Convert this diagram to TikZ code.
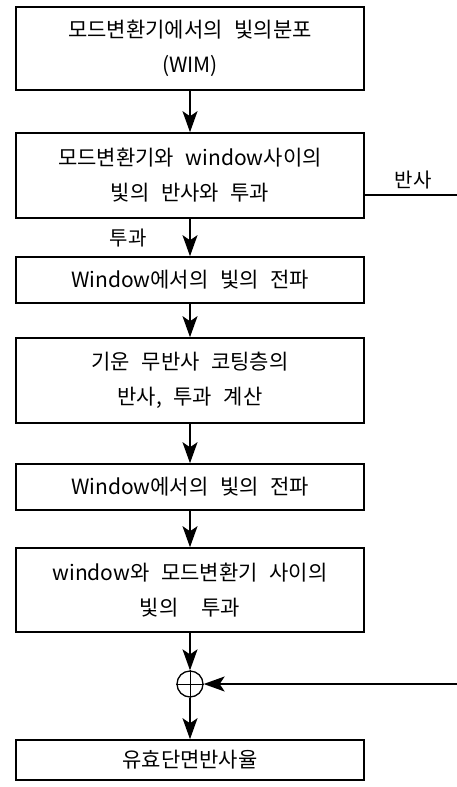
\documentclass[tikz,border=0pt]{standalone}
\usepackage{fontspec}
\setmainfont{Noto Sans CJK KR}
\usetikzlibrary{arrows.meta}
\newcommand{\gap}{\hspace{0.55em}}
\begin{document}
\begin{tikzpicture}[x=1pt,y=-1pt,
  box/.style={draw,line width=1.6pt,minimum width=348pt,inner sep=0pt,align=center,
    font=\fontsize{21}{35}\selectfont},
  lbl/.style={inner sep=0pt,font=\fontsize{20}{20}\selectfont},
  arr/.style={line width=1.4pt,-{Stealth[length=21pt,width=15pt,inset=5pt]}},
  ln/.style={line width=1.3pt}]
\useasboundingbox (0,0) rectangle (457,787);
\node[box,minimum height=83pt] (b1) at (190,48.5) {모드변환기에서의\gap 빛의분포\\(WIM)};
\node[box,minimum height=85pt] (b2) at (190,175.5) {모드변환기와\gap window사이의\\빛의\gap 반사와\gap 투과};
\node[box,minimum height=46pt] (b3) at (190,280) {Window에서의\gap 빛의\gap 전파};
\node[box,minimum height=85pt] (b4) at (190,380.5) {기운\gap 무반사\gap 코팅층의\\반사,\gap 투과\gap 계산};
\node[box,minimum height=46pt] (b5) at (190,487) {Window에서의\gap 빛의\gap 전파};
\node[box,minimum height=84pt] (b6) at (190,590) {window와\gap 모드변환기\gap 사이의\\빛의\gap\gap 투과};
\node[draw,circle,line width=1.3pt,minimum size=26pt,inner sep=0pt] (sum) at (190,684) {};
\node[box,minimum height=40pt] (b7) at (190,760) {유효단면반사율};
\node[lbl] (lr) at (413,180) {반사};
\node[lbl] (lt) at (128,238) {투과};
\coordinate (r1) at (457,195);
\coordinate (r2) at (457,684);
\draw[arr] (b1) -- (b2);
\draw[arr] (b2) -- (b3);
\draw[arr] (b3) -- (b4);
\draw[arr] (b4) -- (b5);
\draw[arr] (b5) -- (b6);
\draw[arr] (b6) -- (sum);
\draw[arr] (sum) -- (b7);
\draw[arr] (r2) -- (sum);
\draw[ln] (b2.east |- r1) -- (r1);
\draw[line width=1pt] (sum.north) -- (sum.south) (sum.west) -- (sum.east);
\end{tikzpicture}
\end{document}
